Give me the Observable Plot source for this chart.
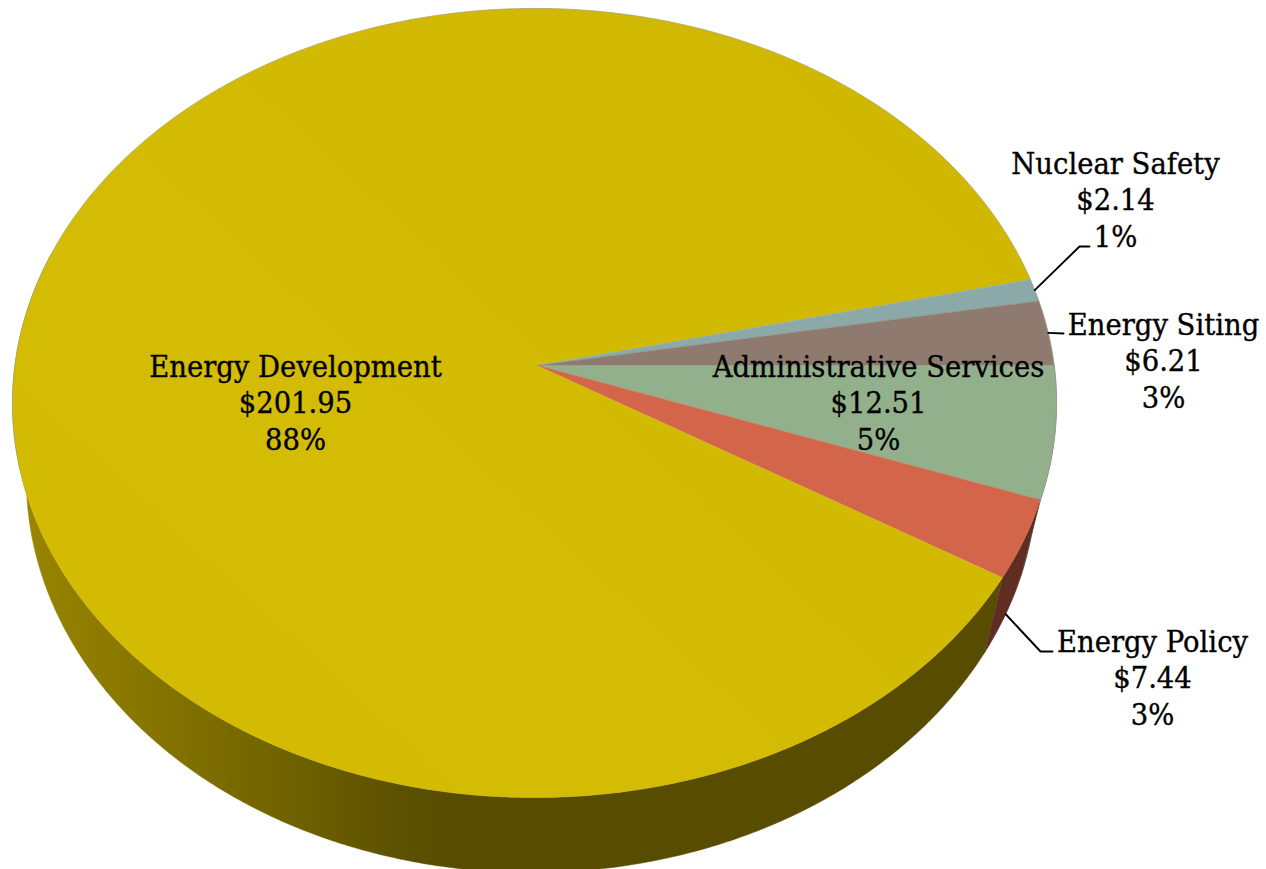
<!DOCTYPE html>
<html>
<head>
<meta charset="utf-8">
<script src="https://cdn.jsdelivr.net/npm/d3@7"></script>
<script src="https://cdn.jsdelivr.net/npm/@observablehq/plot@0.6"></script>
<style>
  html, body { margin: 0; padding: 0; background: #fff; }
  svg { display: block; }
</style>
</head>
<body>
<script>
// Budget slices, clockwise from due east.
const categories = ["Administrative Services", "Energy Policy", "Energy Development", "Nuclear Safety", "Energy Siting"];
const amounts = [12.51, 7.44, 201.95, 2.14, 6.21];
const amountLabels = ["$12.51", "$7.44", "$201.95", "$2.14", "$6.21"];
const shareLabels = ["5%", "3%", "88%", "1%", "3%"];
const sliceColors = ["#92b08b", "#d2654a", "#d2b800", "#8aa9a8", "#8e7a6e"];

// Placement of each text block and its leader elbow.
const labelX = [878, 1152, 295, 1115, 1163];
const labelY = [401, 676, 401, 198, 359];
const leaderElbows = [null, [[1040, 651], [1052, 651]], null, [[1079, 246], [1089, 246]], [[1063, 333]]];

// The disc as seen in perspective: a homography of the unit circle.
const disc = {cx: 537, cy: 365, rx: 519.6, ry: 391, tiltY: -0.0951, tiltX: 0.0057};
const wall = {drop: 75, narrowing: 0.968, shiftX: -3};

function project(t, base = false) {
  const w = 1 + disc.tiltY * Math.sin(t) + disc.tiltX * Math.cos(t);
  const k = base ? wall.narrowing : 1;
  return {
    x: disc.cx + (base ? wall.shiftX : 0) + k * disc.rx * Math.cos(t) / w,
    y: disc.cy + (base ? wall.drop : 0) + disc.ry * Math.sin(t) / w
  };
}

// Angular extents from the values.
const total = d3.sum(amounts);
let running = 0;
const slices = categories.map((name, i) => {
  const start = running / total * 2 * Math.PI;
  running += amounts[i];
  const end = running / total * 2 * Math.PI;
  return {name, i, start, end, mid: (start + end) / 2, color: sliceColors[i]};
});

const degree = Math.PI / 180;
const sampleArc = (from, to, base = false) => {
  const n = Math.max(1, Math.ceil(Math.abs(to - from) / (degree / 2)));
  return d3.range(n + 1).map(k => project(from + (to - from) * k / n, base));
};

// Top face: apex plus a sampled arc for every slice.
const topFace = slices.flatMap(s =>
  [{x: disc.cx, y: disc.cy}, ...sampleArc(s.start, s.end)]
    .map(p => ({...p, slice: s.name, color: s.color}))
);
const sideSlices = slices.filter(s => s.name !== "Energy Development");
const mainSlice = slices.find(s => s.name === "Energy Development");
const topOthers = topFace.filter(p => p.slice !== mainSlice.name);
const topMain = topFace.filter(p => p.slice === mainSlice.name);

// Wall shading falls off from the left edge toward the front of the disc.
const shadeX = [30, 100, 200, 300, 400, 450];
const shadeK = [0.72, 0.67, 0.6, 0.52, 0.44, 0.415];
const darken = (color, k) => {
  const c = d3.rgb(color);
  return d3.rgb(c.r * k, c.g * k, c.b * k).formatHex();
};

// Wall polygons: the top rim forward, the base rim back. Only the part
// that shows below the top face is needed.
const wallBand = (from, to) => [...sampleArc(from, to), ...sampleArc(to, from, true)];
const wallMain = wallBand(mainSlice.start, 197 * degree);
const wallOthers = sideSlices
  .filter(s => s.start < Math.PI / 2)
  .flatMap(s => wallBand(s.start, s.end).map(p => ({
    ...p, slice: s.name, color: darken(s.color, 0.45)
  })));

// Thin grey edge along the far rim.
const farRim = sampleArc(165 * degree, 380 * degree);

// Leader lines start on the rim at each slice's middle angle.
const leaders = slices.flatMap(s => {
  const elbows = leaderElbows[s.i];
  if (!elbows) return [];
  const start = project(s.mid, s.name === "Energy Policy");
  return [start, ...elbows.map(([x, y]) => ({x, y}))].map(p => ({...p, name: s.name}));
});

const labels = slices.map(s => ({
  x: labelX[s.i],
  y: labelY[s.i],
  text: `${s.name}\n${amountLabels[s.i]}\n${shareLabels[s.i]}`
}));

// Gradients shared by the wall and the large slice.
const gradients = () => {
  const ns = "http://www.w3.org/2000/svg";
  const defs = document.createElementNS(ns, "defs");
  const add = (id, [x1, y1, x2, y2], stops) => {
    const g = document.createElementNS(ns, "linearGradient");
    g.setAttribute("id", id);
    g.setAttribute("gradientUnits", "userSpaceOnUse");
    Object.entries({x1, y1, x2, y2}).forEach(([k, v]) => g.setAttribute(k, v));
    stops.forEach(([offset, color]) => {
      const s = document.createElementNS(ns, "stop");
      s.setAttribute("offset", offset);
      s.setAttribute("stop-color", color);
      g.appendChild(s);
    });
    defs.appendChild(g);
  };
  const left = shadeX[0], right = shadeX[shadeX.length - 1];
  add("wall-shade", [left, 0, right, 0],
    shadeX.map((x, i) => [(x - left) / (right - left), darken(sliceColors[2], shadeK[i])]));
  add("top-shade", [900, 100, 300, 750], [[0, "#d0b700"], [0.75, "#d4bc05"], [1, "#d3ba03"]]);
  return defs;
};

const chart = Plot.plot({
  width: 1266,
  height: 869,
  margin: 0,
  x: {domain: [0, 1266], range: [0, 1266], axis: null},
  y: {domain: [0, 869], range: [0, 869], axis: null},
  color: {type: "identity"},
  style: {background: "#fff"},
  marks: [
    gradients,
    Plot.line(wallMain, {x: "x", y: "y", fill: "url(#wall-shade)", stroke: "url(#wall-shade)", strokeWidth: 0.5}),
    Plot.line(wallOthers, {x: "x", y: "y", z: "slice", fill: "color", stroke: "color", strokeWidth: 0.5}),
    Plot.line(topMain, {x: "x", y: "y", fill: "url(#top-shade)", stroke: "url(#top-shade)", strokeWidth: 0.5}),
    Plot.line(topOthers, {x: "x", y: "y", z: "slice", fill: "color", stroke: "color", strokeWidth: 0.5}),
    Plot.line(farRim, {x: "x", y: "y", stroke: "#9a9a98", strokeWidth: 1, strokeOpacity: 0.5}),
    Plot.line(leaders, {x: "x", y: "y", z: "name", stroke: "#000", strokeWidth: 1.9}),
    Plot.text(labels, {
      x: "x", y: "y", text: "text",
      fontFamily: "'DejaVu Serif Condensed', 'DejaVu Serif', serif",
      fontSize: 30.5, lineHeight: 1.2, fill: "#000", stroke: "#000", strokeWidth: 0.35,
      textAnchor: "middle"
    })
  ]
});
document.body.appendChild(chart);
</script>
</body>
</html>
